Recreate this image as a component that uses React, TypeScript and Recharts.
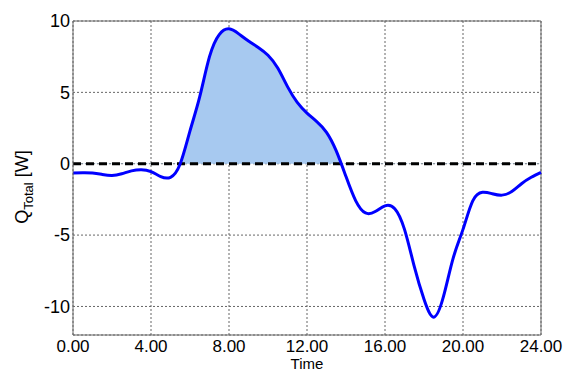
import React from "react"
import {
  ComposedChart,
  Area,
  Line,
  XAxis,
  YAxis,
  CartesianGrid,
  ReferenceLine,
} from "recharts"

// hours of the day
const times = [
  0, 0.5, 1, 1.5, 2, 2.5, 3, 3.5, 4, 4.5, 5, 5.5, 6, 6.5, 7, 7.5, 8, 8.5, 9, 9.5, 10, 10.5, 11, 11.5,
  12, 12.5, 13, 13.5, 14, 14.5, 15, 15.5, 16, 16.5, 17, 17.5, 18, 18.5, 19, 19.5, 20, 20.5, 21, 21.5,
  22, 22.5, 23, 23.5, 24,
]

// Q_Total [W]
const qTotal = [
  -0.65, -0.63, -0.65, -0.75, -0.82, -0.7, -0.5, -0.42, -0.55, -0.9, -0.95, 0.0, 2.3, 4.7, 7.5, 9.05,
  9.45, 9.1, 8.6, 8.15, 7.6, 6.7, 5.4, 4.3, 3.55, 2.95, 2.2, 0.9, -0.9, -2.6, -3.45, -3.35, -2.95,
  -3.15, -4.6, -7.2, -9.5, -10.75, -9.3, -6.6, -4.6, -2.6, -2.0, -2.1, -2.2, -1.95, -1.4, -0.95, -0.6,
]

const xTicks = [0, 4, 8, 12, 16, 20, 24]
const yTicks = [-10, -5, 0, 5, 10]
const yDomain = [-12, 10]

const data = times.map((t, i) => ({ t, q: qTotal[i] }))

const W = 564
const H = 371
const TOP = 21
const XAXIS_H = 36
// where zero sits between the top and bottom of the plot
const zeroOffset = yDomain[1] / (yDomain[1] - yDomain[0])

const FONT = "'Liberation Sans', Arial, sans-serif"

function YLabel({ viewBox }: any) {
  const cx = 28
  const cy = viewBox.y + viewBox.height / 2 + 9
  return (
    <text
      x={cx}
      y={cy}
      transform={`rotate(-90, ${cx}, ${cy})`}
      textAnchor="middle"
      fontFamily={FONT}
      fontSize={18}
      fill="#000"
    >
      Q
      <tspan dy={5} fontSize={13}>
        Total
      </tspan>
      <tspan dy={-5}> [W]</tspan>
    </text>
  )
}

function XLabel({ viewBox }: any) {
  return (
    <text
      x={viewBox.x + viewBox.width / 2}
      y={viewBox.y + 34}
      textAnchor="middle"
      fontFamily={FONT}
      fontSize={15}
      fill="#000"
    >
      Time
    </text>
  )
}

export default function App() {
  return (
    <div style={{ position: "absolute", left: 0, top: 0, width: W, height: H, background: "#fff" }}>
      <ComposedChart
        width={W}
        height={H}
        data={data}
        margin={{ top: TOP, right: 23, left: 0, bottom: 0 }}
      >
        <defs>
          <linearGradient id="posFill" gradientUnits="userSpaceOnUse" x1="0" y1={TOP} x2="0" y2={H - XAXIS_H}>
            <stop offset={0} stopColor="#a7c9f0" stopOpacity={1} />
            <stop offset={zeroOffset} stopColor="#a7c9f0" stopOpacity={1} />
            <stop offset={zeroOffset} stopColor="#a7c9f0" stopOpacity={0} />
            <stop offset={1} stopColor="#a7c9f0" stopOpacity={0} />
          </linearGradient>
        </defs>
        <CartesianGrid stroke="#666" strokeDasharray="2 2" strokeWidth={1} />
        <XAxis
          dataKey="t"
          type="number"
          domain={[0, 24]}
          ticks={xTicks}
          interval={0}
          height={XAXIS_H}
          tickLine={false}
          tickSize={0}
          tickMargin={5}
          axisLine={{ stroke: "#666" }}
          tickFormatter={(v: number) => v.toFixed(2)}
          tick={{ fill: "#000", fontSize: 17, fontFamily: FONT }}
          label={{ content: XLabel }}
        />
        <YAxis
          type="number"
          domain={yDomain}
          ticks={yTicks}
          interval={0}
          width={73}
          tickLine={false}
          tickSize={0}
          tickMargin={3}
          axisLine={{ stroke: "#666" }}
          tick={{ fill: "#000", fontSize: 18, fontFamily: FONT }}
          label={{ content: YLabel }}
        />
        <ReferenceLine y={10} stroke="#666" strokeWidth={1} />
        <ReferenceLine x={24} stroke="#666" strokeWidth={1} />
        <Area
          type="natural"
          dataKey="q"
          baseValue={0}
          stroke="none"
          fill="url(#posFill)"
          fillOpacity={1}
          isAnimationActive={false}
        />
        <ReferenceLine y={0} stroke="#000" strokeWidth={3} strokeDasharray="8 5" />
        <Line
          type="natural"
          dataKey="q"
          stroke="#0000ff"
          strokeWidth={3}
          dot={false}
          activeDot={false}
          isAnimationActive={false}
        />
      </ComposedChart>
    </div>
  )
}
